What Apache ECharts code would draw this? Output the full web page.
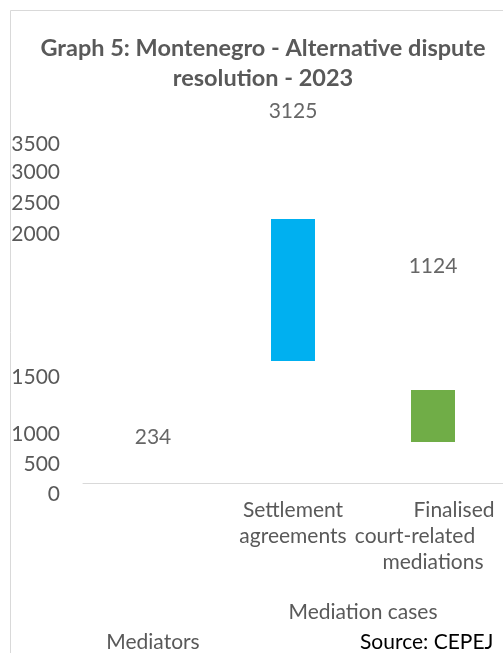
<!DOCTYPE html>
<html>
<head>
<meta charset="utf-8">
<script src="https://cdn.jsdelivr.net/npm/echarts@6/dist/echarts.min.js"></script>
<style>
  html, body { margin: 0; padding: 0; background: #fff; }
  #chart { width: 503px; height: 653px; }
</style>
</head>
<body>
<div id="chart"></div>
<script>
// categories and values as shown in the picture
let categories = ['Mediators', 'Settlement agreements', 'Finalised court-related mediations'];
let values = [234, 3125, 1124];

// where the bars and value labels sit on the (distorted) vertical scale
let barBottom = [null, 1330, 520];
let barTop = [null, 2750, 1040];
let labelLevel = [570, 3830, 2280];

// y axis tick labels and the levels they were drawn at
let tickLabels = ['0', '500', '1000', '1500', '2000', '2500', '3000', '3500'];
let tickLevels = [0, 300, 600, 1170, 2600, 2910, 3220, 3500];

// category groups below the axis
let groupNames = ['Mediators', 'Mediation cases'];
let groupPos = [0.5, 2];

let font = 'Lato';
let gray = '#595959';
let colors = [null, '#00b0f0', '#70ad47'];
let fs = 21;

let chart = echarts.init(document.getElementById('chart'));

let option = {
    backgroundColor: '#fff',
    textStyle: { fontFamily: font },
    animation: false,
    title: [
        {
            text: 'Graph 5: Montenegro - Alternative dispute\nresolution - 2023',
            left: 258,
            top: 28,
            textAlign: 'center',
            textStyle: { fontFamily: font, fontSize: 23.5, fontWeight: 'bold', color: gray, lineHeight: 30 }
        },
        {
            text: 'Source: CEPEJ',
            left: 355,
            top: 627,
            textStyle: { fontFamily: font, fontSize: fs, fontWeight: 'normal', color: '#000' }
        }
    ],
    graphic: [
        {
            type: 'rect',
            shape: { x: 10.5, y: 10.5, width: 600, height: 700 },
            style: { fill: 'none', stroke: '#d9d9d9', lineWidth: 1 },
            silent: true
        }
    ],
    grid: {
        left: 83,
        right: 0,
        top: 94,
        bottom: 159,
        outerBoundsMode: 'none'
    },
    xAxis: [
        {
            type: 'category',
            data: categories,
            offset: -11,
            axisLine: { lineStyle: { color: '#d9d9d9' } },
            axisTick: { show: false },
            axisLabel: {
                interval: 0,
                margin: 14,
                color: gray,
                fontSize: fs,
                lineHeight: 26,
                formatter: function (v, i) {
                    if (i === 0) return '';
                    if (i === 1) return 'Settlement\nagreements';
                    return '{a|Finalised}\n{b|court-related}\n{c|mediations}';
                },
                rich: {
                    a: { color: gray, fontSize: fs, lineHeight: 26, padding: [0, 0, 0, 42] },
                    b: { color: gray, fontSize: fs, lineHeight: 26, padding: [0, 36, 0, 0] },
                    c: { color: gray, fontSize: fs, lineHeight: 26 }
                }
            }
        },
        {
            type: 'value',
            position: 'bottom',
            offset: -11,
            min: 0,
            max: 3,
            axisLine: { show: false },
            axisTick: { show: false },
            splitLine: { show: false },
            axisLabel: {
                customValues: groupPos,
                margin: 116,
                color: gray,
                fontSize: fs,
                lineHeight: 26,
                formatter: function (v) {
                    let i = groupPos.indexOf(v);
                    return i === 0 ? '{low|' + groupNames[i] + '}' : groupNames[i];
                },
                rich: {
                    low: { color: gray, fontSize: fs, lineHeight: 26, padding: [60, 0, 0, 0] }
                }
            }
        }
    ],
    yAxis: {
        type: 'value',
        min: 0,
        max: 4000,
        axisLine: { show: false },
        axisTick: { show: false },
        splitLine: { show: false },
        axisLabel: {
            customValues: tickLevels,
            margin: 23,
            color: gray,
            fontSize: fs,
            formatter: function (v) {
                return tickLabels[tickLevels.indexOf(v)];
            }
        }
    },
    series: [
        {
            name: 'base',
            type: 'bar',
            stack: 'total',
            barWidth: 44,
            itemStyle: { color: 'transparent' },
            data: barBottom.map(v => v === null ? '-' : v)
        },
        {
            name: 'value',
            type: 'bar',
            stack: 'total',
            barWidth: 44,
            data: barTop.map((v, i) => v === null ? '-' : {
                value: v - barBottom[i],
                itemStyle: { color: colors[i] }
            })
        },
        {
            name: 'labels',
            type: 'scatter',
            symbolSize: 0,
            data: labelLevel.map((y, i) => [i, y, values[i]]),
            label: {
                show: true,
                position: 'inside',
                color: '#404040',
                fontSize: fs,
                formatter: p => p.value[2]
            }
        }
    ]
};

option && chart.setOption(option);
</script>
</body>
</html>
